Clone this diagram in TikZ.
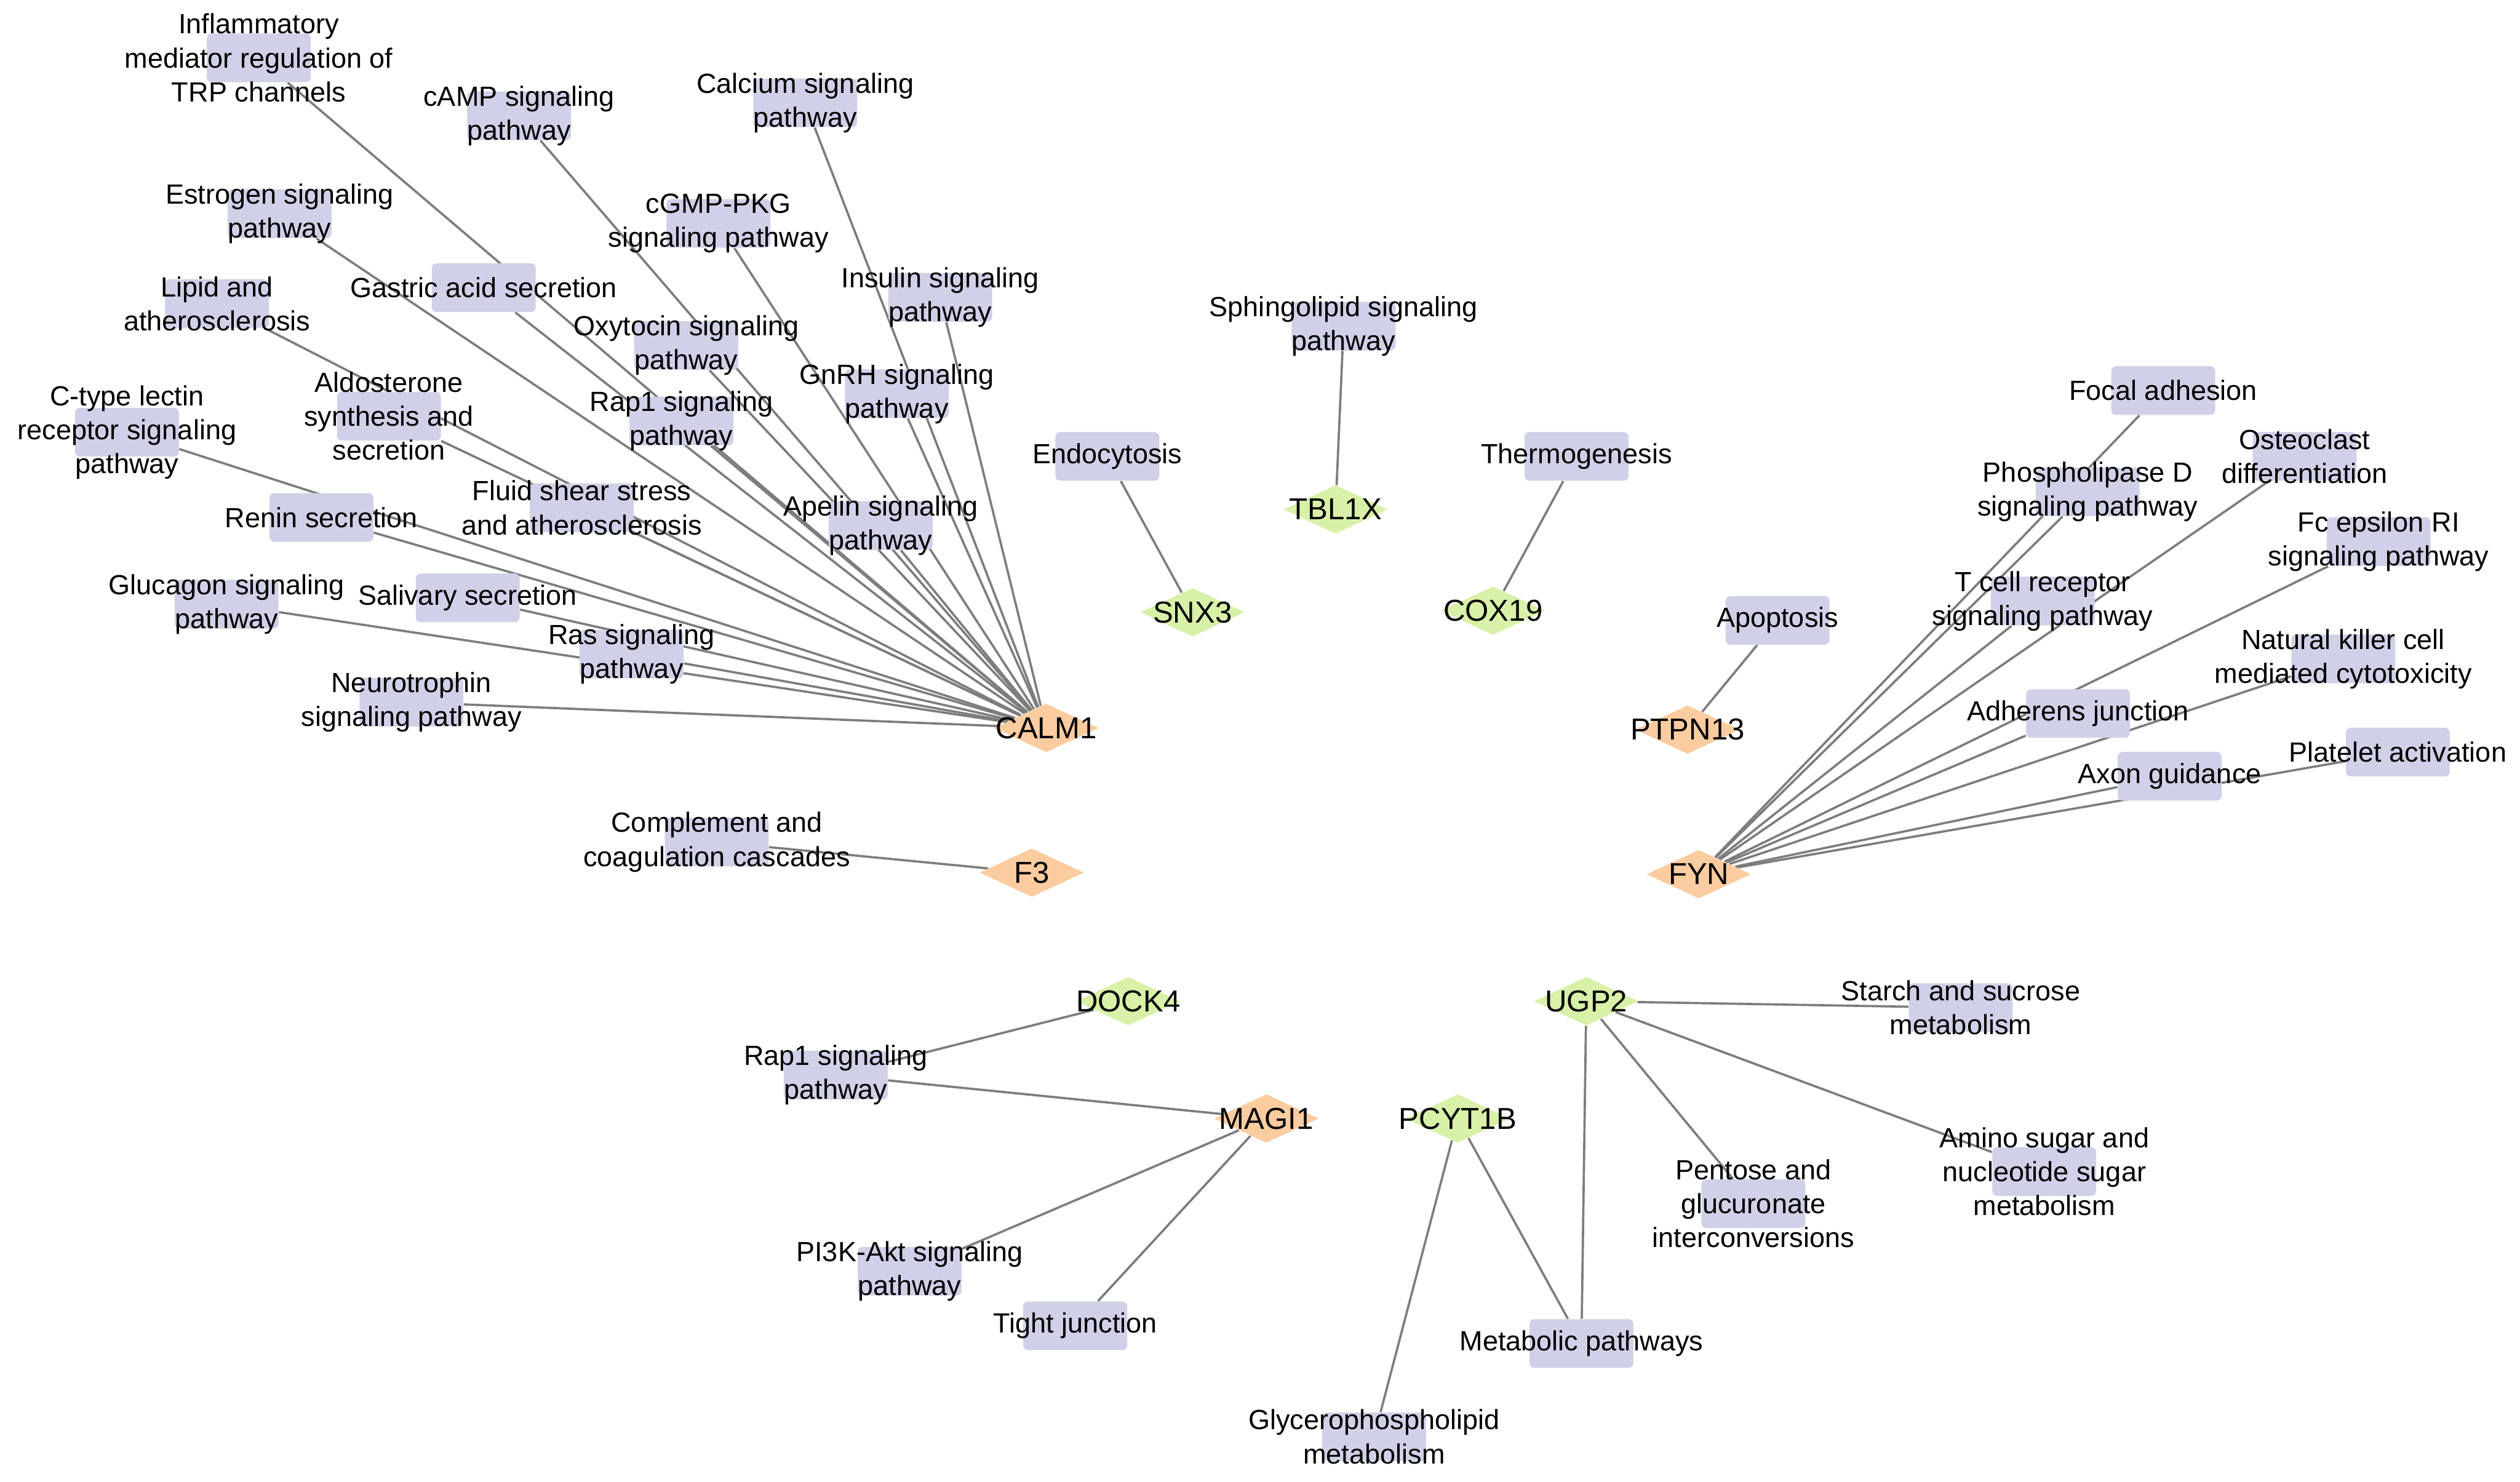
\documentclass[tikz,border=0pt]{standalone}
\usepackage{fontspec}
\setmainfont{Liberation Sans}
\usetikzlibrary{shapes.geometric,backgrounds}
\definecolor{PathLilac}{RGB}{208,208,232}
\definecolor{GeneOrange}{RGB}{250,204,160}
\definecolor{GeneGreen}{RGB}{216,240,168}
\definecolor{LinkGray}{RGB}{125,125,125}

\begin{document}
\begin{tikzpicture}[x=0.027079cm,y=-0.027079cm,
	pwtext/.style={font=\fontsize{13.3}{16.3}\selectfont,align=center,inner sep=0pt},
	genetext/.style={font=\fontsize{14.5}{17}\selectfont,inner sep=0pt},
	pw/.style={rectangle,rounded corners=0.8mm,fill=PathLilac,minimum width=17.5mm,minimum height=8.2mm,inner sep=0pt,label={[pwtext]center:{#1}}},
	geneO/.style={diamond,fill=GeneOrange,minimum width=17.6mm,minimum height=8.2mm,inner sep=0pt,label={[genetext]center:{#1}}},
	geneG/.style={diamond,fill=GeneGreen,minimum width=17.6mm,minimum height=8.2mm,inner sep=0pt,label={[genetext]center:{#1}}},
	link/.style={draw=LinkGray,line width=0.38mm}]
		\useasboundingbox (0,0) rectangle (1568,922);
		
		% CALM1 and its pathways
		\node[pw={Inflammatory\\mediator regulation of\\TRP channels}] (inflam) at (161,36) {};
		\node[pw={cAMP signaling\\pathway}] (camp) at (323,72) {};
		\node[pw={Calcium signaling\\pathway}] (calcium) at (501,64) {};
		\node[pw={Estrogen signaling\\pathway}] (estrogen) at (174,133) {};
		\node[pw={cGMP-PKG\\signaling pathway}] (cgmp) at (447,139) {};
		\node[pw={Gastric acid secretion}] (gastric) at (301,179) {};
		\node[pw={Lipid and\\atherosclerosis}] (lipid) at (135,189) {};
		\node[pw={Insulin signaling\\pathway}] (insulin) at (585,185) {};
		\node[pw={Oxytocin signaling\\pathway}] (oxytocin) at (427,215) {};
		\node[pw={Aldosterone\\synthesis and\\secretion}] (aldo) at (242,259) {};
		\node[pw={C-type lectin\\receptor signaling\\pathway}] (ctype) at (79,269) {};
		\node[pw={Rap1 signaling\\pathway}] (rapa) at (424,262) {};
		\node[pw={GnRH signaling\\pathway}] (gnrh) at (558,245) {};
		\node[pw={Fluid shear stress\\and atherosclerosis}] (fluid) at (362,316) {};
		\node[pw={Apelin signaling\\pathway}] (apelin) at (548,327) {};
		\node[pw={Renin secretion}] (renin) at (200,322) {};
		\node[pw={Glucagon signaling\\pathway}] (glucagon) at (141,376) {};
		\node[pw={Salivary secretion}] (salivary) at (291,372) {};
		\node[pw={Ras signaling\\pathway}] (ras) at (393,407) {};
		\node[pw={Neurotrophin\\signaling pathway}] (neuro) at (256,437) {};
		\node[geneO=CALM1] (calm) at (651,453) {};
		
		% single-pathway genes in the middle
		\node[pw=Endocytosis] (endo) at (689,284) {};
		\node[geneG=SNX3] (snx) at (742,381) {};
		\node[pw={Sphingolipid signaling\\pathway}] (sphingo) at (836,203) {};
		\node[geneG=TBL1X] (tbl) at (831,317) {};
		\node[pw=Thermogenesis] (thermo) at (981,284) {};
		\node[geneG=COX19] (cox) at (929,380) {};
		\node[pw=Apoptosis] (apop) at (1106,386) {};
		\node[geneO=PTPN13] (ptpn) at (1050,454) {};
		\node[pw={Complement and\\coagulation cascades}] (compl) at (446,524) {};
		\node[geneO=F3] (fthree) at (642,543) {};
		
		% FYN and its pathways
		\node[pw={Focal adhesion}] (focal) at (1346,243) {};
		\node[pw={Phospholipase D\\signaling pathway}] (pld) at (1299,306) {};
		\node[pw={Osteoclast\\differentiation}] (osteo) at (1434,284) {};
		\node[pw={Fc epsilon RI\\signaling pathway}] (fceps) at (1480,337) {};
		\node[pw={T cell receptor\\signaling pathway}] (tcell) at (1271,374) {};
		\node[pw={Natural killer cell\\mediated cytotoxicity}] (nkcell) at (1458,410) {};
		\node[pw={Adherens junction}] (adher) at (1293,444) {};
		\node[pw={Platelet activation}] (platelet) at (1492,468) {};
		\node[pw={Axon guidance}] (axon) at (1350,483) {};
		\node[geneO=FYN] (fyn) at (1057,544) {};
		
		% DOCK4 and MAGI1
		\node[geneG=DOCK4] (dock) at (702,623) {};
		\node[pw={Rap1 signaling\\pathway}] (rapb) at (520,669) {};
		\node[geneO=MAGI1] (magi) at (788,696) {};
		\node[pw={PI3K-Akt signaling\\pathway}] (pik) at (566,791) {};
		\node[pw={Tight junction}] (tight) at (669,825) {};
		
		% UGP2 and PCYT1B
		\node[geneG=UGP2] (ugp) at (987,623) {};
		\node[pw={Starch and sucrose\\metabolism}] (starch) at (1220,627) {};
		\node[geneG=PCYT1B] (pcyt) at (907,696) {};
		\node[pw={Pentose and\\glucuronate\\interconversions}] (pentose) at (1091,749) {};
		\node[pw={Amino sugar and\\nucleotide sugar\\metabolism}] (amino) at (1272,729) {};
		\node[pw={Metabolic pathways}] (metab) at (984,836) {};
		\node[pw={Glycerophospholipid\\metabolism}] (glycero) at (855,894) {};
		
		% links, kept under the boxes
		\begin{scope}[on background layer]
		\draw[link] (calm)--(inflam);
		\draw[link] (calm)--(camp);
		\draw[link] (calm)--(calcium);
		\draw[link] (calm)--(estrogen);
		\draw[link] (calm)--(cgmp);
		\draw[link] (calm)--(gastric);
		\draw[link] (calm)--(lipid);
		\draw[link] (calm)--(insulin);
		\draw[link] (calm)--(oxytocin);
		\draw[link] (calm)--(aldo);
		\draw[link] (calm)--(ctype);
		\draw[link] (calm)--(rapa);
		\draw[link] (calm)--(gnrh);
		\draw[link] (calm)--(fluid);
		\draw[link] (calm)--(apelin);
		\draw[link] (calm)--(renin);
		\draw[link] (calm)--(glucagon);
		\draw[link] (calm)--(salivary);
		\draw[link] (calm)--(ras);
		\draw[link] (calm)--(neuro);
		
		\draw[link] (snx)--(endo);
		\draw[link] (tbl)--(sphingo);
		\draw[link] (cox)--(thermo);
		\draw[link] (ptpn)--(apop);
		\draw[link] (fthree)--(compl);
		
		\draw[link] (fyn)--(focal);
		\draw[link] (fyn)--(pld);
		\draw[link] (fyn)--(osteo);
		\draw[link] (fyn)--(fceps);
		\draw[link] (fyn)--(tcell);
		\draw[link] (fyn)--(nkcell);
		\draw[link] (fyn)--(adher);
		\draw[link] (fyn)--(platelet);
		\draw[link] (fyn)--(axon);
		
		\draw[link] (dock)--(rapb);
		\draw[link] (magi)--(rapb);
		\draw[link] (magi)--(pik);
		\draw[link] (magi)--(tight);
		
		\draw[link] (ugp)--(starch);
		\draw[link] (ugp)--(pentose);
		\draw[link] (ugp)--(amino);
		\draw[link] (ugp)--(metab);
		\draw[link] (pcyt)--(metab);
		\draw[link] (pcyt)--(glycero);
		\end{scope}
	\end{tikzpicture}
\end{document}
